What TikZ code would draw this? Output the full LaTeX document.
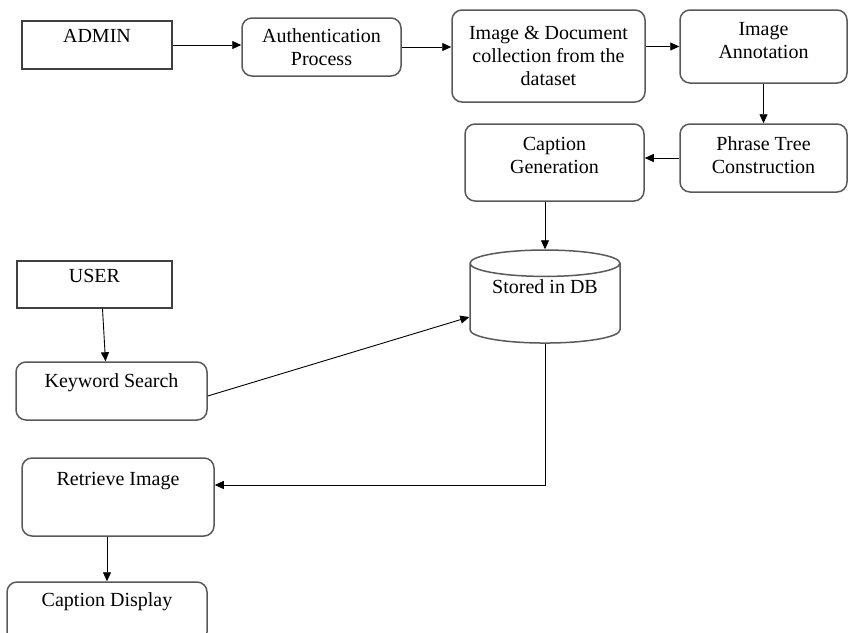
\documentclass[tikz,border=0pt]{standalone}
\usepackage{fontspec}
\setmainfont{Liberation Serif}
\usetikzlibrary{arrows.meta,shapes.geometric}

\begin{document}
\begin{tikzpicture}[x=1pt,y=-1pt,
    every node/.style={font=\fontsize{20}{23}\selectfont, inner sep=0pt, align=center},
    plainbox/.style={draw=black!75, line width=1.3pt},
    roundbox/.style={draw=black!65, line width=1.5pt, rounded corners=10pt},
    dbshape/.style={cylinder, shape border rotate=90, aspect=0.25, draw=black!65, line width=1.5pt},
    flow/.style={-{Triangle[length=9pt,width=8pt]}, line width=0.9pt}]

    \useasboundingbox (0,0) rectangle (848,632);
    \clip (0,0) rectangle (848,632);

% admin side
\node[plainbox, minimum width=150pt, text height=21pt, text depth=27pt] (admin) at (97,45) {ADMIN};
\node[roundbox, minimum width=159pt, minimum height=58pt] (auth) at (321.5,47) {Authentication\\Process};
\node[roundbox, minimum width=193pt, minimum height=92pt] (collect) at (548.5,56) {Image \& Document\\collection from the\\dataset};
\node[roundbox, minimum width=167pt, minimum height=73pt, text depth=12pt] (annot) at (763.5,46.5) {Image\\Annotation};
\node[roundbox, minimum width=167pt, minimum height=68pt, text depth=6pt] (phrase) at (763.5,158) {Phrase Tree\\Construction};
\node[roundbox, minimum width=179pt, minimum height=77pt, text depth=14pt] (capgen) at (554.5,162.5) {Caption\\Generation};

% database
\node[dbshape, minimum width=150pt, minimum height=93pt, text height=14pt, text depth=35pt] (db) at (545,303.5) {Stored in DB};

% user side
\node[plainbox, minimum width=155pt, text height=21pt, text depth=26pt] (user) at (94.5,284.5) {USER};
\node[roundbox, minimum width=191pt, text height=25pt, text depth=33pt] (keyword) at (111.5,391) {Keyword Search};
\node[roundbox, minimum width=192pt, text height=27pt, text depth=51pt] (retrieve) at (118,497) {Retrieve Image};
\node[roundbox, minimum width=200pt, text height=24pt, text depth=36pt] (display) at (107,612) {Caption Display};

\draw[flow] (admin.east) -- (admin.east -| auth.west);
\draw[flow] (auth.east) -- (auth.east -| collect.west);
\draw[flow] (annot.west -| collect.east) -- (annot.west);
\draw[flow] (annot.south) -- (phrase.north);
\draw[flow] (phrase.west) -- (phrase.west -| capgen.east);
\draw[flow] (db.north |- capgen.south) -- (db.north);

\draw[flow] ([xshift=8pt]user.south) -- ([xshift=-6pt]keyword.north);
\draw[flow] ([yshift=-5pt]keyword.east) -- ([yshift=-13.5pt]db.west);
\draw[flow] (db.south) |- ([yshift=12pt]retrieve.east);
\draw[flow] (display.north |- retrieve.south) -- (display.north);

\end{tikzpicture}
\end{document}
